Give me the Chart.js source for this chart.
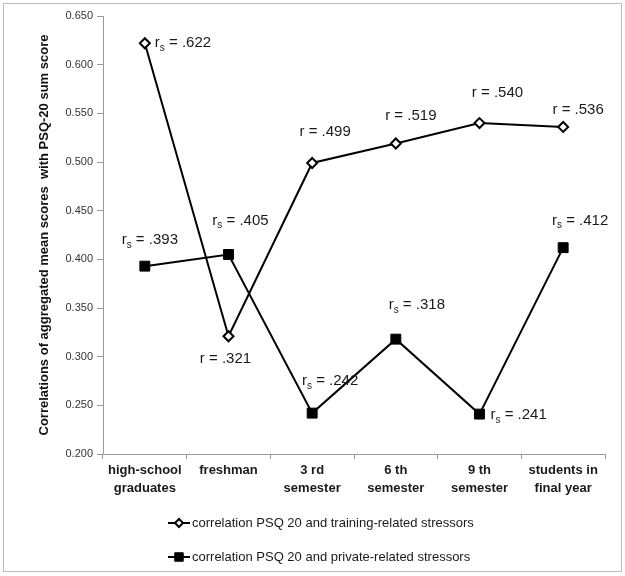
<!DOCTYPE html>
<html lang="en">
<head>
    <meta charset="UTF-8">
    <title>PSQ-20 correlations</title>
    <script src="https://cdn.jsdelivr.net/npm/chart.js"></script>
    <style>
        body {
            margin: 0;
            padding: 0;
            background-color: #fff;
            overflow: hidden;
        }

        .wrap {
            position: relative;
            width: 625px;
            height: 576px;
        }
    </style>
</head>
<body>
    <div class="wrap">
        <canvas id="grafico"></canvas>
    </div>

    <script>
        // data
        const categories = [
            ['high-school', 'graduates'],
            'freshman',
            ['3 rd', 'semester'],
            ['6 th', 'semester'],
            ['9 th', 'semester'],
            ['students in', 'final year']
        ];
        const trainingValues = [0.622, 0.321, 0.499, 0.519, 0.540, 0.536];
        const privateValues = [0.393, 0.405, 0.242, 0.318, 0.241, 0.412];
        const trainingSymbols = ['rs', 'r', 'r', 'r', 'r', 'r'];
        const privateSymbols = ['rs', 'rs', 'rs', 'rs', 'rs', 'rs'];
        const yTicks = [0.2, 0.25, 0.3, 0.35, 0.4, 0.45, 0.5, 0.55, 0.6, 0.65];
        const legendLabels = [
            'correlation PSQ 20 and training-related stressors',
            'correlation PSQ 20 and private-related stressors'
        ];

        // where each value label sits relative to its point (dx, dy, align)
        const trainingLabelPos = [
            [10, 0, 'left'], [-3, 23, 'center'], [13, -31, 'center'],
            [15, -28, 'center'], [18, -30, 'center'], [15, -17, 'center']
        ];
        const privateLabelPos = [
            [5, -26, 'center'], [12, -34, 'center'], [18, -32, 'center'],
            [21, -34, 'center'], [11, 1, 'left'], [17, -27, 'center']
        ];

        const FONT = "'Liberation Sans', Arial, sans-serif";

        function fmt(v) {
            return '.' + v.toFixed(3).split('.')[1];
        }

        // draws "r = .xxx" or r with subscript s
        function drawValueLabel(ctx, sym, val, x, y, align) {
            const main = '15px ' + FONT;
            const sub = '10px ' + FONT;
            const rest = ' = ' + fmt(val);
            ctx.font = main;
            const wR = ctx.measureText('r').width;
            const wRest = ctx.measureText(rest).width;
            ctx.font = sub;
            const wS = sym === 'rs' ? ctx.measureText('s').width : 0;
            const total = wR + wS + wRest;
            let sx = align === 'center' ? x - total / 2 : x;
            ctx.fillStyle = '#1a1a1a';
            ctx.textBaseline = 'middle';
            ctx.textAlign = 'left';
            ctx.font = main;
            ctx.fillText('r', sx, y);
            sx += wR;
            if (sym === 'rs') {
                ctx.font = sub;
                ctx.fillText('s', sx, y + 5);
                sx += wS;
            }
            ctx.font = main;
            ctx.fillText(rest, sx, y);
        }

        const extras = {
            id: 'extras',
            beforeDraw(chart) {
                const ctx = chart.ctx;
                ctx.save();
                ctx.strokeStyle = '#bdbdbd';
                ctx.lineWidth = 1;
                ctx.strokeRect(3.5, 3.5, 618, 568);
                ctx.restore();
            },
            afterDatasetsDraw(chart) {
                const ctx = chart.ctx;
                ctx.save();
                const sets = [
                    [0, trainingValues, trainingSymbols, trainingLabelPos],
                    [1, privateValues, privateSymbols, privateLabelPos]
                ];
                sets.forEach(([idx, vals, syms, pos]) => {
                    const meta = chart.getDatasetMeta(idx);
                    meta.data.forEach((pt, i) => {
                        drawValueLabel(ctx, syms[i], vals[i], pt.x + pos[i][0], pt.y + pos[i][1], pos[i][2]);
                    });
                });

                // legend below the axis
                const lx = chart.chartArea.left + 65;
                const rows = [chart.chartArea.bottom + 69, chart.chartArea.bottom + 103];
                chart.data.datasets.forEach((ds, i) => {
                    const y = rows[i];
                    ctx.strokeStyle = ds.borderColor;
                    ctx.lineWidth = 2;
                    ctx.beginPath();
                    ctx.moveTo(lx, y);
                    ctx.lineTo(lx + 22, y);
                    ctx.stroke();
                    ctx.fillStyle = ds.pointBackgroundColor;
                    ctx.strokeStyle = ds.pointBorderColor;
                    ctx.lineWidth = ds.pointBorderWidth;
                    Chart.helpers.drawPoint(ctx, {
                        pointStyle: ds.pointStyle,
                        radius: ds.pointRadius - 1,
                        borderWidth: ds.pointBorderWidth,
                        rotation: 0
                    }, lx + 11, y);
                    ctx.font = '13px ' + FONT;
                    ctx.fillStyle = '#1a1a1a';
                    ctx.textAlign = 'left';
                    ctx.textBaseline = 'middle';
                    ctx.fillText(legendLabels[i], lx + 24, y);
                });
                ctx.restore();
            }
        };

        const ctx = document.getElementById('grafico').getContext('2d');
        const chart = new Chart(ctx, {
            type: 'line',
            data: {
                labels: categories,
                datasets: [{
                    label: legendLabels[0],
                    data: trainingValues,
                    borderColor: '#000',
                    borderWidth: 2,
                    pointStyle: 'rectRot',
                    pointRadius: 5,
                    pointBackgroundColor: '#fff',
                    pointBorderColor: '#000',
                    pointBorderWidth: 2,
                    tension: 0
                }, {
                    label: legendLabels[1],
                    data: privateValues,
                    borderColor: '#000',
                    borderWidth: 2,
                    pointStyle: 'rect',
                    pointRadius: 7,
                    pointBackgroundColor: '#000',
                    pointBorderColor: '#000',
                    pointBorderWidth: 1,
                    tension: 0
                }]
            },
            options: {
                responsive: true,
                maintainAspectRatio: false,
                animation: false,
                layout: { padding: { top: 16, right: 20, left: 0, bottom: 0 } },
                plugins: {
                    legend: { display: false },
                    tooltip: { enabled: false }
                },
                scales: {
                    x: {
                        offset: true,
                        afterFit(scale) { scale.height = 122; },
                        grid: {
                            offset: true,
                            drawOnChartArea: false,
                            drawTicks: true,
                            tickLength: 5,
                            color: '#9a9a9a'
                        },
                        border: { color: '#9a9a9a', width: 1 },
                        ticks: {
                            maxRotation: 0,
                            autoSkip: false,
                            padding: 3,
                            color: '#1a1a1a',
                            font: { family: FONT, size: 13, weight: 'bold', lineHeight: 1.35 }
                        }
                    },
                    y: {
                        min: 0.2,
                        max: 0.65,
                        afterFit(scale) { scale.width = 103; },
                        afterBuildTicks(scale) {
                            scale.ticks = yTicks.map(v => ({ value: v }));
                        },
                        grid: {
                            drawOnChartArea: false,
                            drawTicks: true,
                            tickLength: 6,
                            color: '#9a9a9a'
                        },
                        border: { color: '#9a9a9a', width: 1 },
                        ticks: {
                            padding: 4,
                            color: '#333',
                            font: { family: FONT, size: 11 },
                            callback: v => Number(v).toFixed(3)
                        },
                        title: {
                            display: true,
                            text: 'Correlations of aggregated mean scores  with PSQ-20 sum score',
                            color: '#111',
                            padding: { top: 37, bottom: 0 },
                            font: { family: FONT, size: 13, weight: 'bold' }
                        }
                    }
                }
            },
            plugins: [extras]
        });
    </script>
</body>
</html>
